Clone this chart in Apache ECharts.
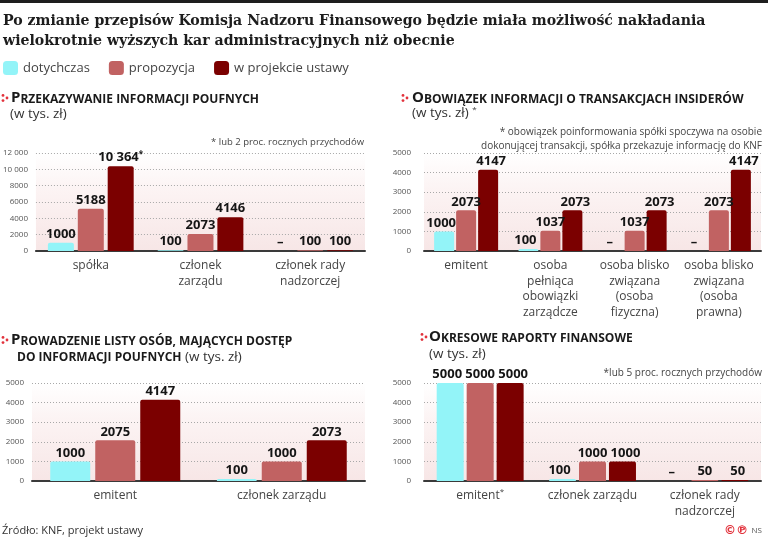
<!DOCTYPE html>
<html>
<head>
<meta charset="utf-8">
<script src="https://cdn.jsdelivr.net/npm/echarts@6/dist/echarts.min.js"></script>
<style>html,body{margin:0;padding:0;background:#fff}#c{width:768px;height:542px}</style>
</head>
<body>
<div id="c"></div>
<script>
// ---- data ----
const seriesNames = ['dotychczas', 'propozycja', 'w projekcie ustawy'];

const p1Cats = ['spółka', 'członek\nzarządu', 'członek rady\nnadzorczej'];
const p1Dot  = [1000, 100, null];
const p1Prop = [5188, 2073, 100];
const p1Proj = [10364, 4146, 100];
const p1ProjNote = ['*', '', ''];
const p1Ticks = [0, 2000, 4000, 6000, 8000, 10000, 12000];

const p2Cats = ['emitent', 'osoba\npełniąca\nobowiązki\nzarządcze', 'osoba blisko\nzwiązana\n(osoba\nfizyczna)', 'osoba blisko\nzwiązana\n(osoba\nprawna)'];
const p2Dot  = [1000, 100, null, null];
const p2Prop = [2073, 1037, 1037, 2073];
const p2Proj = [4147, 2073, 2073, 4147];
const p2Ticks = [0, 1000, 2000, 3000, 4000, 5000];

const p3Cats = ['emitent', 'członek zarządu'];
const p3Dot  = [1000, 100];
const p3Prop = [2075, 1000];
const p3Proj = [4147, 2073];
const p3Ticks = [0, 1000, 2000, 3000, 4000, 5000];

const p4Cats = ['emitent*', 'członek zarządu', 'członek rady\nnadzorczej'];
const p4Dot  = [5000, 100, null];
const p4Prop = [5000, 1000, 50];
const p4Proj = [5000, 1000, 50];
const p4Ticks = [0, 1000, 2000, 3000, 4000, 5000];

// ---- styling / layout ----
const colors = ['#93f4f8', '#c16262', '#7b0000'];
const FONT = 'Open Sans';

const panels = [
  { cats: p1Cats, vals: [p1Dot, p1Prop, p1Proj], notes: [null, null, p1ProjNote], ticks: p1Ticks,
    grid: { left: 32, right: 403, top: 153, bottom: 291 }, barWidth: 26, barGap: '15%', yMargin: 8, spread: 0 },
  { cats: p2Cats, vals: [p2Dot, p2Prop, p2Proj], notes: [null, null, null], ticks: p2Ticks,
    grid: { left: 424, right: 7, top: 153, bottom: 291 }, barWidth: 20, barGap: '10%', yMargin: 13, spread: 3 },
  { cats: p3Cats, vals: [p3Dot, p3Prop, p3Proj], notes: [null, null, null], ticks: p3Ticks,
    grid: { left: 32, right: 403, top: 383, bottom: 61 }, barWidth: 40, barGap: '12.5%', yMargin: 8, spread: 0 },
  { cats: p4Cats, vals: [p4Dot, p4Prop, p4Proj], notes: [null, null, null], ticks: p4Ticks,
    grid: { left: 424, right: 7, top: 383, bottom: 61 }, barWidth: 27, barGap: '11%', yMargin: 13, spread: 3 }
];

function fmtNum(v) {
  return v >= 10000 ? String(v).replace(/\B(?=(\d{3})+(?!\d))/g, ' ') : String(v);
}

const bgGrad = { type: 'linear', x: 0, y: 0, x2: 0, y2: 1,
  colorStops: [{ offset: 0, color: '#ffffff' }, { offset: 0.35, color: '#fcf4f4' }, { offset: 1, color: '#f7e6e6' }] };

const grids = [], xAxes = [], yAxes = [], series = [];
panels.forEach((p, i) => {
  grids.push(Object.assign({ show: true, borderWidth: 0, backgroundColor: bgGrad }, p.grid));
  xAxes.push({
    type: 'category', gridIndex: i, data: p.cats,
    axisTick: { show: false },
    axisLine: { lineStyle: { color: '#3a3a3a', width: 2 } },
    axisLabel: {
      interval: 0, fontFamily: FONT, fontSize: 12, color: '#444', lineHeight: 15.5, margin: 7,
      formatter: v => v.endsWith('*') ? v.slice(0, -1) + '{s|*}' : v,
      rich: { s: { fontSize: 8, color: '#444', verticalAlign: 'top', padding: [0, 0, 5, 0] } }
    }
  });
  const tk = p.ticks;
  yAxes.push({
    type: 'value', gridIndex: i, min: tk[0], max: tk[tk.length - 1], interval: tk[1] - tk[0],
    axisLine: { show: false }, axisTick: { show: false },
    axisLabel: { fontFamily: FONT, fontSize: 8, color: '#555', margin: p.yMargin, formatter: v => fmtNum(v) },
    splitLine: { lineStyle: { color: '#a8a8a8', type: [1, 2], width: 1 } }
  });
  p.vals.forEach((arr, k) => {
    series.push({
      type: 'bar', name: seriesNames[k], xAxisIndex: i, yAxisIndex: i,
      barWidth: p.barWidth, barGap: p.barGap,
      itemStyle: { color: colors[k], borderRadius: [2, 2, 0, 0] },
      data: arr.map((v, j) => ({ value: v === null ? 0 : v, isNull: v === null, note: p.notes[k] ? p.notes[k][j] : '' })),
      label: {
        show: true, position: 'top', distance: 2, offset: [(k - 1) * p.spread, 0],
        fontFamily: FONT, fontWeight: 'bold', fontSize: 13, color: '#151515',
        formatter: prm => prm.data.isNull ? '–' : fmtNum(prm.data.value) + (prm.data.note ? '{s|' + prm.data.note + '}' : ''),
        rich: { s: { fontFamily: FONT, fontWeight: 'bold', fontSize: 8, color: '#151515', verticalAlign: 'top', padding: [0, 0, 6, 0] } }
      },
      emphasis: { disabled: true }
    });
  });
});

const capB = { fontFamily: FONT, fontWeight: 'bold', fontSize: 15, fill: '#1a1a1a', verticalAlign: 'bottom' };
const capS = { fontFamily: FONT, fontWeight: 'bold', fontSize: 12, fill: '#1a1a1a', verticalAlign: 'bottom' };
const regT = { fontFamily: FONT, fontSize: 13.5, fill: '#333', verticalAlign: 'bottom' };
const supT = { fontFamily: FONT, fontSize: 8, fill: '#333', verticalAlign: 'top' };

function bullet(x, y) {
  return [
    { type: 'circle', shape: { cx: x, cy: y - 2.6, r: 1.4 }, style: { fill: '#e2323c' } },
    { type: 'circle', shape: { cx: x, cy: y + 2.6, r: 1.4 }, style: { fill: '#e2323c' } },
    { type: 'circle', shape: { cx: x + 4, cy: y, r: 1.4 }, style: { fill: '#e2323c' } }
  ];
}
function txt(x, y, text, opts) {
  return { type: 'text', x: x, y: y, style: Object.assign({ text: text, fontFamily: FONT, fontSize: 13.5, fill: '#333', verticalAlign: 'middle', textAlign: 'left' }, opts || {}) };
}

const TITLEFONT = '"DejaVu Serif Condensed", "DejaVu Serif", serif';
const graphics = [
  { type: 'rect', shape: { x: 0, y: 0, width: 768, height: 3 }, style: { fill: '#1e1e1e' } },
  txt(3, 21, 'Po zmianie przepisów Komisja Nadzoru Finansowego będzie miała możliwość nakładania', { fontFamily: TITLEFONT, fontWeight: 'bold', fontSize: 15.7, fill: '#1d1d1d' }),
  txt(3, 41, 'wielokrotnie wyższych kar administracyjnych niż obecnie', { fontFamily: TITLEFONT, fontWeight: 'bold', fontSize: 15.7, fill: '#1d1d1d' }),

  ...bullet(3, 98),
  txt(11, 98, '{b|P}{s|RZEKAZYWANIE INFORMACJI POUFNYCH}', { rich: { b: capB, s: capS } }),
  txt(10, 114, '(w tys. zł)'),
  txt(364, 142, '* lub 2 proc. rocznych przychodów', { fontSize: 9.5, fill: '#444', textAlign: 'right' }),

  ...bullet(403, 98),
  txt(412, 98, '{b|O}{s|BOWIĄZEK INFORMACJI O TRANSAKCJACH INSIDERÓW}', { rich: { b: capB, s: capS } }),
  txt(412, 113, '{r|(w tys. zł) }{p|*}', { rich: { r: regT, p: supT } }),
  txt(762, 132, '* obowiązek poinformowania spółki spoczywa na osobie', { fontSize: 10, fill: '#444', textAlign: 'right' }),
  txt(762, 146, 'dokonującej transakcji, spółka przekazuje informację do KNF', { fontSize: 10, fill: '#444', textAlign: 'right' }),

  ...bullet(3, 340),
  txt(11, 340, '{b|P}{s|ROWADZENIE LISTY OSÓB, MAJĄCYCH DOSTĘP}', { rich: { b: capB, s: capS } }),
  txt(17, 357, '{s|DO INFORMACJI POUFNYCH} {r|(w tys. zł)}', { rich: { s: capS, r: regT } }),

  ...bullet(422, 337),
  txt(429, 337, '{b|O}{s|KRESOWE RAPORTY FINANSOWE}', { rich: { b: capB, s: capS } }),
  txt(429, 354, '(w tys. zł)'),
  txt(762, 373, '*lub 5 proc. rocznych przychodów', { fontSize: 10, fill: '#444', textAlign: 'right' }),

  txt(2, 531, 'Źródło: KNF, projekt ustawy', { fontSize: 11, fill: '#333' }),
  txt(762, 531, '{c|©℗} {n|NS}', { textAlign: 'right', rich: {
    c: { fontFamily: 'DejaVu Sans', fontWeight: 'bold', fontSize: 12, fill: '#e2323c' },
    n: { fontFamily: FONT, fontSize: 8, fill: '#555' } } })
];

const chart = echarts.init(document.getElementById('c'), null, { renderer: 'canvas' });
chart.setOption({
  animation: false,
  backgroundColor: '#fff',
  color: colors,
  legend: {
    data: seriesNames, left: 3, top: 61, padding: 0, itemWidth: 15, itemHeight: 14, itemGap: 19, icon: 'roundRect',
    textStyle: { fontFamily: FONT, fontSize: 13, color: '#444' }, selectedMode: false
  },
  grid: grids, xAxis: xAxes, yAxis: yAxes, series: series,
  graphic: graphics
});
</script>
</body>
</html>
